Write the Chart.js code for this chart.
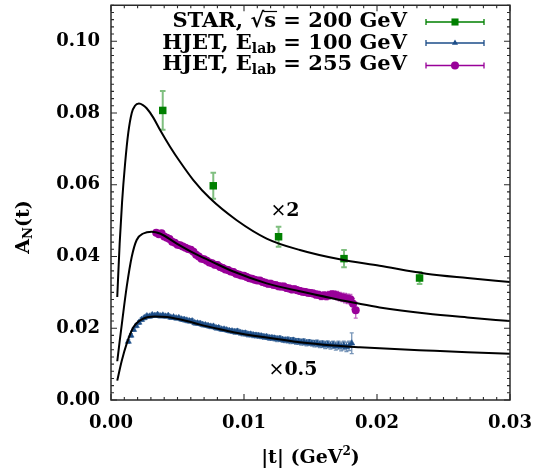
<!DOCTYPE html>
<html>
<head>
<meta charset="utf-8">
<script src="https://cdn.jsdelivr.net/npm/chart.js@4.4.0/dist/chart.umd.min.js"></script>
<style>
  html, body { margin: 0; padding: 0; background: #fff; }
</style>
</head>
<body>
<canvas id="chart" width="533" height="470"></canvas>
<script>
// axis ticks
const xTicks = [0, 0.01, 0.02, 0.03];
const yTicks = [0, 0.02, 0.04, 0.06, 0.08, 0.10];

// STAR, sqrt(s) = 200 GeV
const starT = [0.00389, 0.00769, 0.0126, 0.01752, 0.0232];
const starA = [0.0807, 0.0597, 0.0455, 0.0394, 0.0340];
const starErr = [0.0054, 0.0036, 0.0028, 0.0024, 0.0017];

// HJET, E_lab = 100 GeV
const hjet100T = [
  0.0013,0.0015,0.0017,0.0019,0.0021,0.0023,0.0025,0.0027,0.0029,0.0031,
  0.0033,0.0035,0.0037,0.0039,0.0041,0.0043,0.0045,0.0047,0.0049,0.0051,
  0.0053,0.0055,0.0057,0.0059,0.0061,0.0063,0.0065,0.0067,0.0069,0.0071,
  0.0073,0.0075,0.0077,0.0079,0.0081,0.0083,0.0085,0.0087,0.0089,0.0091,
  0.0093,0.0095,0.0097,0.0099,0.0101,0.0103,0.0105,0.0107,0.0109,0.0111,
  0.0113,0.0115,0.0117,0.0119,0.0121,0.0123,0.0125,0.0127,0.0129,0.0131,
  0.0133,0.0135,0.0137,0.0139,0.0141,0.0143,0.0145,0.0147,0.0149,0.0151,
  0.0153,0.0155,0.0157,0.0159,0.0161,0.0163,0.0165,0.0167,0.0169,0.0171,
  0.0173,0.0175,0.0177,0.0179,0.0181
];
const hjet100A = [
  0.0163,0.0180,0.0196,0.0207,0.0216,0.0224,0.0229,0.0234,0.0233,0.0237,
  0.0235,0.0238,0.0234,0.0236,0.0233,0.0235,0.0230,0.0231,0.0228,0.0229,
  0.0225,0.0224,0.0222,0.0220,0.0220,0.0215,0.0214,0.0213,0.0210,0.0209,
  0.0207,0.0205,0.0205,0.0201,0.0201,0.0197,0.0197,0.0195,0.0193,0.0192,
  0.0190,0.0191,0.0188,0.0186,0.0186,0.0183,0.0183,0.0181,0.0180,0.0179,
  0.0178,0.0176,0.0176,0.0173,0.0173,0.0172,0.0170,0.0171,0.0168,0.0167,
  0.0167,0.0165,0.0166,0.0163,0.0163,0.0161,0.0162,0.0159,0.0160,0.0158,
  0.0157,0.0158,0.0155,0.0156,0.0153,0.0155,0.0152,0.0154,0.0150,0.0153,
  0.0149,0.0152,0.0148,0.0151,0.0158
];
const hjet100Err = [
  0.0005,0.0005,0.0005,0.0005,0.0005,0.0005,0.0005,0.0005,0.0005,0.0005,
  0.0005,0.0005,0.0005,0.0005,0.0005,0.0005,0.0005,0.0005,0.0005,0.0005,
  0.0006,0.0006,0.0006,0.0006,0.0006,0.0006,0.0006,0.0006,0.0006,0.0006,
  0.0006,0.0006,0.0006,0.0006,0.0006,0.0006,0.0006,0.0006,0.0006,0.0006,
  0.0007,0.0007,0.0007,0.0007,0.0007,0.0007,0.0007,0.0007,0.0007,0.0007,
  0.0007,0.0007,0.0007,0.0007,0.0007,0.0007,0.0007,0.0007,0.0007,0.0007,
  0.0008,0.0008,0.0008,0.0008,0.0008,0.0008,0.0008,0.0008,0.0008,0.0008,
  0.0009,0.0009,0.0009,0.0009,0.0010,0.0010,0.0010,0.0010,0.0011,0.0011,
  0.0012,0.0012,0.0013,0.0013,0.0029
];

// HJET, E_lab = 255 GeV
const hjet255T = [
  0.0034,0.0036,0.0038,0.0040,0.0042,0.0044,0.0046,0.0048,0.0050,0.0052,
  0.0054,0.0056,0.0058,0.0060,0.0062,0.0064,0.0066,0.0068,0.0070,0.0072,
  0.0074,0.0076,0.0078,0.0080,0.0082,0.0084,0.0086,0.0088,0.0090,0.0092,
  0.0094,0.0096,0.0098,0.0100,0.0102,0.0104,0.0106,0.0108,0.0110,0.0112,
  0.0114,0.0116,0.0118,0.0120,0.0122,0.0124,0.0126,0.0128,0.0130,0.0132,
  0.0134,0.0136,0.0138,0.0140,0.0142,0.0144,0.0146,0.0148,0.0150,0.0152,
  0.0154,0.0156,0.0158,0.0160,0.0162,0.0164,0.0166,0.0168,0.0170,0.0172,
  0.0174,0.0176,0.0178,0.0180,0.0182,0.0184
];
const hjet255A = [
  0.0466,0.0462,0.0465,0.0456,0.0452,0.0449,0.0441,0.0438,0.0433,0.0431,
  0.0428,0.0424,0.0421,0.0419,0.0413,0.0405,0.0400,0.0394,0.0392,0.0388,
  0.0383,0.0381,0.0377,0.0376,0.0371,0.0368,0.0364,0.0362,0.0358,0.0357,
  0.0352,0.0350,0.0347,0.0346,0.0343,0.0339,0.0338,0.0335,0.0333,0.0333,
  0.0329,0.0327,0.0324,0.0324,0.0321,0.0320,0.0317,0.0316,0.0316,0.0312,
  0.0311,0.0308,0.0309,0.0306,0.0304,0.0302,0.0301,0.0299,0.0298,0.0297,
  0.0294,0.0293,0.0290,0.0291,0.0290,0.0292,0.0294,0.0293,0.0291,0.0288,
  0.0286,0.0284,0.0282,0.0281,0.0268,0.0250
];
const hjet255Err = [
  0.0007,0.0007,0.0007,0.0007,0.0007,0.0007,0.0007,0.0007,0.0007,0.0007,
  0.0007,0.0007,0.0007,0.0007,0.0007,0.0007,0.0007,0.0007,0.0007,0.0007,
  0.0008,0.0008,0.0008,0.0008,0.0008,0.0008,0.0008,0.0008,0.0008,0.0008,
  0.0008,0.0008,0.0008,0.0008,0.0008,0.0008,0.0008,0.0008,0.0008,0.0008,
  0.0009,0.0009,0.0009,0.0009,0.0009,0.0009,0.0009,0.0009,0.0009,0.0009,
  0.0009,0.0009,0.0009,0.0009,0.0009,0.0009,0.0009,0.0009,0.0009,0.0009,
  0.0010,0.0010,0.0010,0.0010,0.0011,0.0011,0.0011,0.0011,0.0012,0.0012,
  0.0012,0.0013,0.0013,0.0013,0.0015,0.0022
];

// theory curves (x2 for 200 GeV, x1 for 255 GeV, x0.5 for 100 GeV)
const curve200T = [0.00047,0.00065,0.00083,0.00105,0.0013,0.00156,0.0018,0.0021,0.0024,0.00268,
  0.00318,0.00368,0.00444,0.00519,0.00619,0.00744,0.00945,0.0117,0.0142,0.0172,0.0202,0.0237,0.0268,0.030];
const curve200A = [0.0287,0.0435,0.0550,0.0655,0.0745,0.0800,0.0820,0.0826,0.0822,0.0813,
  0.0787,0.0753,0.0706,0.0664,0.0613,0.0562,0.0501,0.0450,0.0418,0.0392,0.0374,0.0352,0.0340,0.0329];

const curve255T = [0.00047,0.00066,0.00085,0.00118,0.00156,0.00193,0.00243,0.00306,0.00368,0.00494,
  0.0062,0.0075,0.0092,0.0117,0.0142,0.0167,0.0187,0.0202,0.0237,0.0268,0.030];
const curve255A = [0.0108,0.0166,0.0222,0.0315,0.0399,0.0446,0.0464,0.0469,0.0464,0.0436,
  0.0410,0.0387,0.0358,0.0325,0.0303,0.0283,0.0268,0.0258,0.0241,0.0230,0.0220];

const curve100T = [0.00047,0.0008,0.00118,0.00168,0.00243,0.00331,0.00419,0.0057,0.0067,0.0082,
  0.0092,0.0117,0.0142,0.0167,0.0187,0.0202,0.0237,0.0268,0.030];
const curve100A = [0.0054,0.0108,0.0157,0.0203,0.0227,0.0233,0.0231,0.0220,0.0210,0.0197,
  0.0189,0.0174,0.0161,0.0152,0.0147,0.0144,0.0138,0.0133,0.0129];

// scale-factor notes, placed in data coordinates
const noteX2 = { t: 0.01308, a: 0.0532, text: '2' };
const noteX05 = { t: 0.01368, a: 0.0088, text: '0.5' };

const FONT = '"DejaVu Serif", serif';
const GREEN = '#008000', BLUE = '#1d4e89', PURPLE = '#990099';

const pts = (xs, ys) => xs.map((x, i) => ({ x: x, y: ys[i] }));

const errorBars = {
  id: 'errorBars',
  beforeDatasetsDraw(chart) {
    const ctx = chart.ctx, xs = chart.scales.x, ys = chart.scales.y;
    ctx.save();
    chart.data.datasets.forEach(ds => {
      if (!ds.errs) return;
      ctx.strokeStyle = ds.errColor;
      ctx.lineWidth = ds.errWidth;
      ds.data.forEach((p, i) => {
        const px = xs.getPixelForValue(p.x);
        const y1 = ys.getPixelForValue(p.y + ds.errs[i]);
        const y2 = ys.getPixelForValue(p.y - ds.errs[i]);
        ctx.beginPath();
        ctx.moveTo(px, y1); ctx.lineTo(px, y2);
        ctx.moveTo(px - ds.cap, y1); ctx.lineTo(px + ds.cap, y1);
        ctx.moveTo(px - ds.cap, y2); ctx.lineTo(px + ds.cap, y2);
        ctx.stroke();
      });
    });
    ctx.restore();
  }
};

// frame with inward major/minor ticks on all four sides
const frame = {
  id: 'frame',
  afterDatasetsDraw(chart) {
    const ctx = chart.ctx, a = chart.chartArea, xs = chart.scales.x, ys = chart.scales.y;
    ctx.save();
    ctx.globalAlpha = 1;
    ctx.setLineDash([]);
    ctx.strokeStyle = '#2a2a2a';
    ctx.lineWidth = 1.5;
    ctx.beginPath();
    ctx.moveTo(a.left, a.top);
    ctx.lineTo(a.right, a.top);
    ctx.lineTo(a.right, a.bottom);
    ctx.lineTo(a.left, a.bottom);
    ctx.closePath();
    ctx.stroke();
    ctx.lineWidth = 1.1;
    ctx.beginPath();
    for (let k = 0; k <= 30; k++) {
      const px = xs.getPixelForValue(k * 0.001);
      const len = k % 10 === 0 ? 6 : 3;
      ctx.moveTo(px, a.bottom); ctx.lineTo(px, a.bottom - len);
      ctx.moveTo(px, a.top); ctx.lineTo(px, a.top + len);
    }
    for (let k = 0; k <= 55; k++) {
      const py = ys.getPixelForValue(k * 0.002);
      const len = k % 10 === 0 ? 6 : 3;
      ctx.moveTo(a.left, py); ctx.lineTo(a.left + len, py);
      ctx.moveTo(a.right, py); ctx.lineTo(a.right - len, py);
    }
    ctx.stroke();
    ctx.restore();
  }
};

// segs: [text, size, dy, weight]
function drawSegs(ctx, segs, x, y, align) {
  const fontOf = s => (s[3] || 'bold') + ' ' + s[1] + 'px ' + FONT;
  let w = 0;
  segs.forEach(s => { ctx.font = fontOf(s); s.w = ctx.measureText(s[0]).width; w += s.w; });
  let cx = align === 'right' ? x - w : align === 'center' ? x - w / 2 : x;
  const pos = [];
  segs.forEach(s => {
    ctx.font = fontOf(s);
    ctx.fillText(s[0], cx, y + (s[2] || 0));
    pos.push([cx, s.w]);
    cx += s.w;
  });
  return pos;
}

function legendMarker(ctx, style, color, cx, cy, r) {
  ctx.strokeStyle = color;
  ctx.lineWidth = 1.3;
  ctx.beginPath();
  ctx.moveTo(cx - 29, cy); ctx.lineTo(cx + 29, cy);
  ctx.moveTo(cx - 29, cy - 3); ctx.lineTo(cx - 29, cy + 3);
  ctx.moveTo(cx + 29, cy - 3); ctx.lineTo(cx + 29, cy + 3);
  ctx.stroke();
  ctx.fillStyle = color;
  Chart.helpers.drawPoint(ctx, { pointStyle: style, radius: r, borderWidth: 0, rotation: 0 }, cx, cy);
}

const texts = {
  id: 'texts',
  afterDraw(chart) {
    const ctx = chart.ctx, a = chart.chartArea, xs = chart.scales.x, ys = chart.scales.y;
    ctx.save();
    ctx.fillStyle = '#000';
    ctx.textBaseline = 'alphabetic';

    // axis titles
    drawSegs(ctx, [['|t| (GeV', 19], ['2', 12, -8], [')', 19]], (a.left + a.right) / 2, 463, 'center');
    ctx.save();
    ctx.translate(29, 227);
    ctx.rotate(-Math.PI / 2);
    drawSegs(ctx, [['A', 19], ['N', 13, 3], ['(t)', 19]], 0, 0, 'center');
    ctx.restore();

    // scale factor notes
    let nx = xs.getPixelForValue(noteX2.t), ny = ys.getPixelForValue(noteX2.a);
    drawSegs(ctx, [['\u00d7', 19, 0, 'normal'], [noteX2.text, 19]], nx, ny + 7, 'center');
    nx = xs.getPixelForValue(noteX05.t); ny = ys.getPixelForValue(noteX05.a);
    drawSegs(ctx, [['\u00d7', 19, 0, 'normal'], [noteX05.text, 19]], nx, ny + 7, 'center');

    // legend
    const rx = 407;
    const pos = drawSegs(ctx, [['STAR, ', 21], ['\u221a', 21], ['s', 21], [' = 200 GeV', 21]], rx, 27, 'right');
    ctx.strokeStyle = '#000'; ctx.lineWidth = 1.2;
    ctx.beginPath();
    ctx.moveTo(pos[1][0] + pos[1][1] - 1, 11.5); ctx.lineTo(pos[2][0] + pos[2][1] + 1, 11.5);
    ctx.stroke();
    drawSegs(ctx, [['HJET, E', 21], ['lab', 14, 4], [' = 100 GeV', 21]], rx, 48.5, 'right');
    drawSegs(ctx, [['HJET, E', 21], ['lab', 14, 4], [' = 255 GeV', 21]], rx, 70, 'right');
    legendMarker(ctx, 'rect', GREEN, 455, 22, 5);
    legendMarker(ctx, 'triangle', BLUE, 455, 43, 3.5);
    legendMarker(ctx, 'circle', PURPLE, 455, 65.5, 4);
    ctx.restore();
  }
};

const curveStyle = {
  showLine: true, borderColor: '#000', borderWidth: 2, pointRadius: 0,
  cubicInterpolationMode: 'monotone', fill: false, order: 0
};

new Chart(document.getElementById('chart').getContext('2d'), {
  type: 'scatter',
  data: {
    datasets: [
      Object.assign({ label: 'curve200', data: pts(curve200T, curve200A) }, curveStyle),
      Object.assign({ label: 'curve255', data: pts(curve255T, curve255A) }, curveStyle),
      Object.assign({ label: 'curve100', data: pts(curve100T, curve100A) }, curveStyle),
      {
        label: 'HJET 100', data: pts(hjet100T, hjet100A), errs: hjet100Err,
        errColor: 'rgba(29,78,137,0.6)', errWidth: 1.3, cap: 2,
        pointStyle: 'triangle', pointRadius: 3.6, backgroundColor: BLUE, borderColor: BLUE, borderWidth: 0.5, order: 2
      },
      {
        label: 'HJET 255', data: pts(hjet255T, hjet255A), errs: hjet255Err,
        errColor: 'rgba(153,0,153,0.6)', errWidth: 1.3, cap: 2,
        pointStyle: 'circle', pointRadius: 4, backgroundColor: PURPLE, borderColor: PURPLE, borderWidth: 0, order: 2
      },
      {
        label: 'STAR', data: pts(starT, starA), errs: starErr,
        errColor: 'rgba(0,128,0,0.5)', errWidth: 2, cap: 2.8,
        pointStyle: 'rect', pointRadius: 5.3, backgroundColor: GREEN, borderColor: GREEN, borderWidth: 0, order: 1
      }
    ]
  },
  options: {
    responsive: false,
    animation: false,
    clip: false,
    layout: { padding: { top: 5, right: 23, left: 0, bottom: 0 } },
    plugins: { legend: { display: false }, tooltip: { enabled: false } },
    scales: {
      x: {
        type: 'linear', min: 0, max: 0.03,
        afterFit(s) { s.height = 70; s.paddingLeft = 0; s.paddingRight = 0; },
        afterBuildTicks(s) { s.ticks = xTicks.map(v => ({ value: v })); },
        grid: { display: false, drawTicks: false },
        border: { display: false },
        ticks: {
          padding: 13, color: '#000', maxRotation: 0,
          font: { family: FONT, weight: 'bold', size: 18 },
          callback: v => v.toFixed(2)
        }
      },
      y: {
        type: 'linear', min: 0, max: 0.11,
        afterFit(s) { s.width = 111; s.paddingTop = 0; s.paddingBottom = 0; },
        afterBuildTicks(s) { s.ticks = yTicks.map(v => ({ value: v })); },
        grid: { display: false, drawTicks: false },
        border: { display: false },
        ticks: {
          padding: 11, color: '#000',
          font: { family: FONT, weight: 'bold', size: 18 },
          callback: v => v.toFixed(2)
        }
      }
    }
  },
  plugins: [errorBars, frame, texts]
});
</script>
</body>
</html>
